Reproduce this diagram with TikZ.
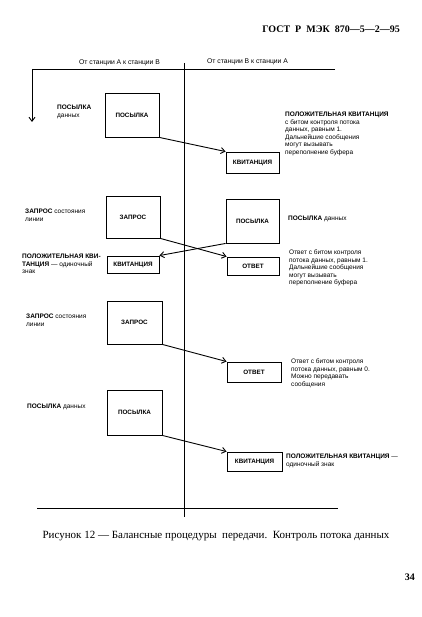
\documentclass[tikz,border=0pt]{standalone}
\usepackage{fontspec}
\setmainfont{Liberation Serif}
\newfontfamily\diag{Liberation Sans}
\usetikzlibrary{arrows.meta}
\begin{document}
\begin{tikzpicture}[x=1pt,y=-1pt,
  box/.style={draw, line width=0.9pt, inner sep=0pt, font=\diag\bfseries\fontsize{6.3}{7}\selectfont},
  lbl/.style={anchor=north west, inner sep=0pt, align=left, font=\diag\fontsize{6.5}{7.5}\selectfont},
  msg/.style={line width=0.9pt, -{Straight Barb[length=4pt,width=6pt]}},
  axis/.style={line width=0.9pt}]
\useasboundingbox (0,0) rectangle (422,617);
% header
\node[anchor=east, inner sep=0pt, font=\bfseries\fontsize{10}{12}\selectfont] (hdr) at (400,29) {ГОСТ\ \ Р\ \ МЭК\ \ 870—5—2—95};
% axes
\coordinate (tl) at (32,69);
\coordinate (tr) at (335,69);
\coordinate (ad) at (32,122);
\coordinate (vt) at (184,63);
\coordinate (vb) at (184,517);
\coordinate (bl) at (37,508);
\coordinate (br) at (338,508);
\draw[axis] (tr) -- (tl);
\draw[msg] (tl) -- (ad);
\draw[axis] (vt) -- (vb);
\draw[line width=0.6pt] (bl) -- (br);
\node[font=\diag\fontsize{6.8}{7}\selectfont, inner sep=0pt] (ab) at (119.5,63) {От станции А к станции В};
\node[font=\diag\fontsize{6.8}{7}\selectfont, inner sep=0pt] (ba) at (247.5,62) {От станции В к станции А};
% boxes
\node[box, minimum width=54, minimum height=44] (P1) at (132,115) {ПОСЫЛКА};
\node[box, minimum width=53, minimum height=21] (K1) at (252.5,162.5) {КВИТАНЦИЯ};
\node[box, minimum width=54, minimum height=42] (Z1) at (133,217) {ЗАПРОС};
\node[box, minimum width=53, minimum height=44] (P2) at (252.5,221) {ПОСЫЛКА};
\node[box, minimum width=52, minimum height=17] (K2) at (133,264.5) {КВИТАНЦИЯ};
\node[box, minimum width=52, minimum height=18] (O1) at (253,266) {ОТВЕТ};
\node[box, minimum width=55, minimum height=43] (Z2) at (134.5,322.5) {ЗАПРОС};
\node[box, minimum width=54, minimum height=20] (O2) at (254,372) {ОТВЕТ};
\node[box, minimum width=55, minimum height=45] (P3) at (134.5,412.5) {ПОСЫЛКА};
\node[box, minimum width=55, minimum height=19] (K3) at (254.5,461.5) {КВИТАНЦИЯ};
% arrows
\draw[msg] (P1.south east) -- (K1.north west);
\draw[msg] (Z1.south east) -- (O1.north west);
\draw[msg] (P2.south west) -- (K2.north east);
\draw[msg] (Z2.south east) -- (O2.north west);
\draw[msg] (P3.south east) -- (K3.north west);
% labels
\node[lbl] (l1) at (57,105) {\textbf{ПОСЫЛКА}\\данных};
\node[lbl] (r1) at (285,112) {\textbf{ПОЛОЖИТЕЛЬНАЯ КВИТАНЦИЯ}\\с битом контроля потока\\данных, равным 1.\\Дальнейшие сообщения\\могут вызывать\\переполнение буфера};
\node[lbl] (l2) at (25,209) {\textbf{ЗАПРОС} состояния\\линии};
\node[lbl] (r2) at (288,216) {\textbf{ПОСЫЛКА} данных};
\node[lbl] (l3) at (22,254) {\textbf{ПОЛОЖИТЕЛЬНАЯ КВИ-}\\\textbf{ТАНЦИЯ} — одиночный\\знак};
\node[lbl] (r3) at (289,250) {Ответ с битом контроля\\потока данных, равным 1.\\Дальнейшие сообщения\\могут вызывать\\переполнение буфера};
\node[lbl] (l4) at (26,314) {\textbf{ЗАПРОС} состояния\\линии};
\node[lbl] (r4) at (291,359) {Ответ с битом контроля\\потока данных, равным 0.\\Можно передавать\\сообщения};
\node[lbl] (l5) at (27,404) {\textbf{ПОСЫЛКА} данных};
\node[lbl] (r5) at (286,454) {\textbf{ПОЛОЖИТЕЛЬНАЯ КВИТАНЦИЯ} —\\одиночный знак};
% caption
\node[inner sep=0pt, font=\fontsize{11}{13}\selectfont] (cap) at (216,536) {Рисунок 12 — Балансные процедуры\ \ передачи.\ \ Контроль потока данных};
\node[anchor=east, inner sep=0pt, font=\bfseries\fontsize{10}{12}\selectfont] (pg) at (415,577) {34};
\end{tikzpicture}
\end{document}
